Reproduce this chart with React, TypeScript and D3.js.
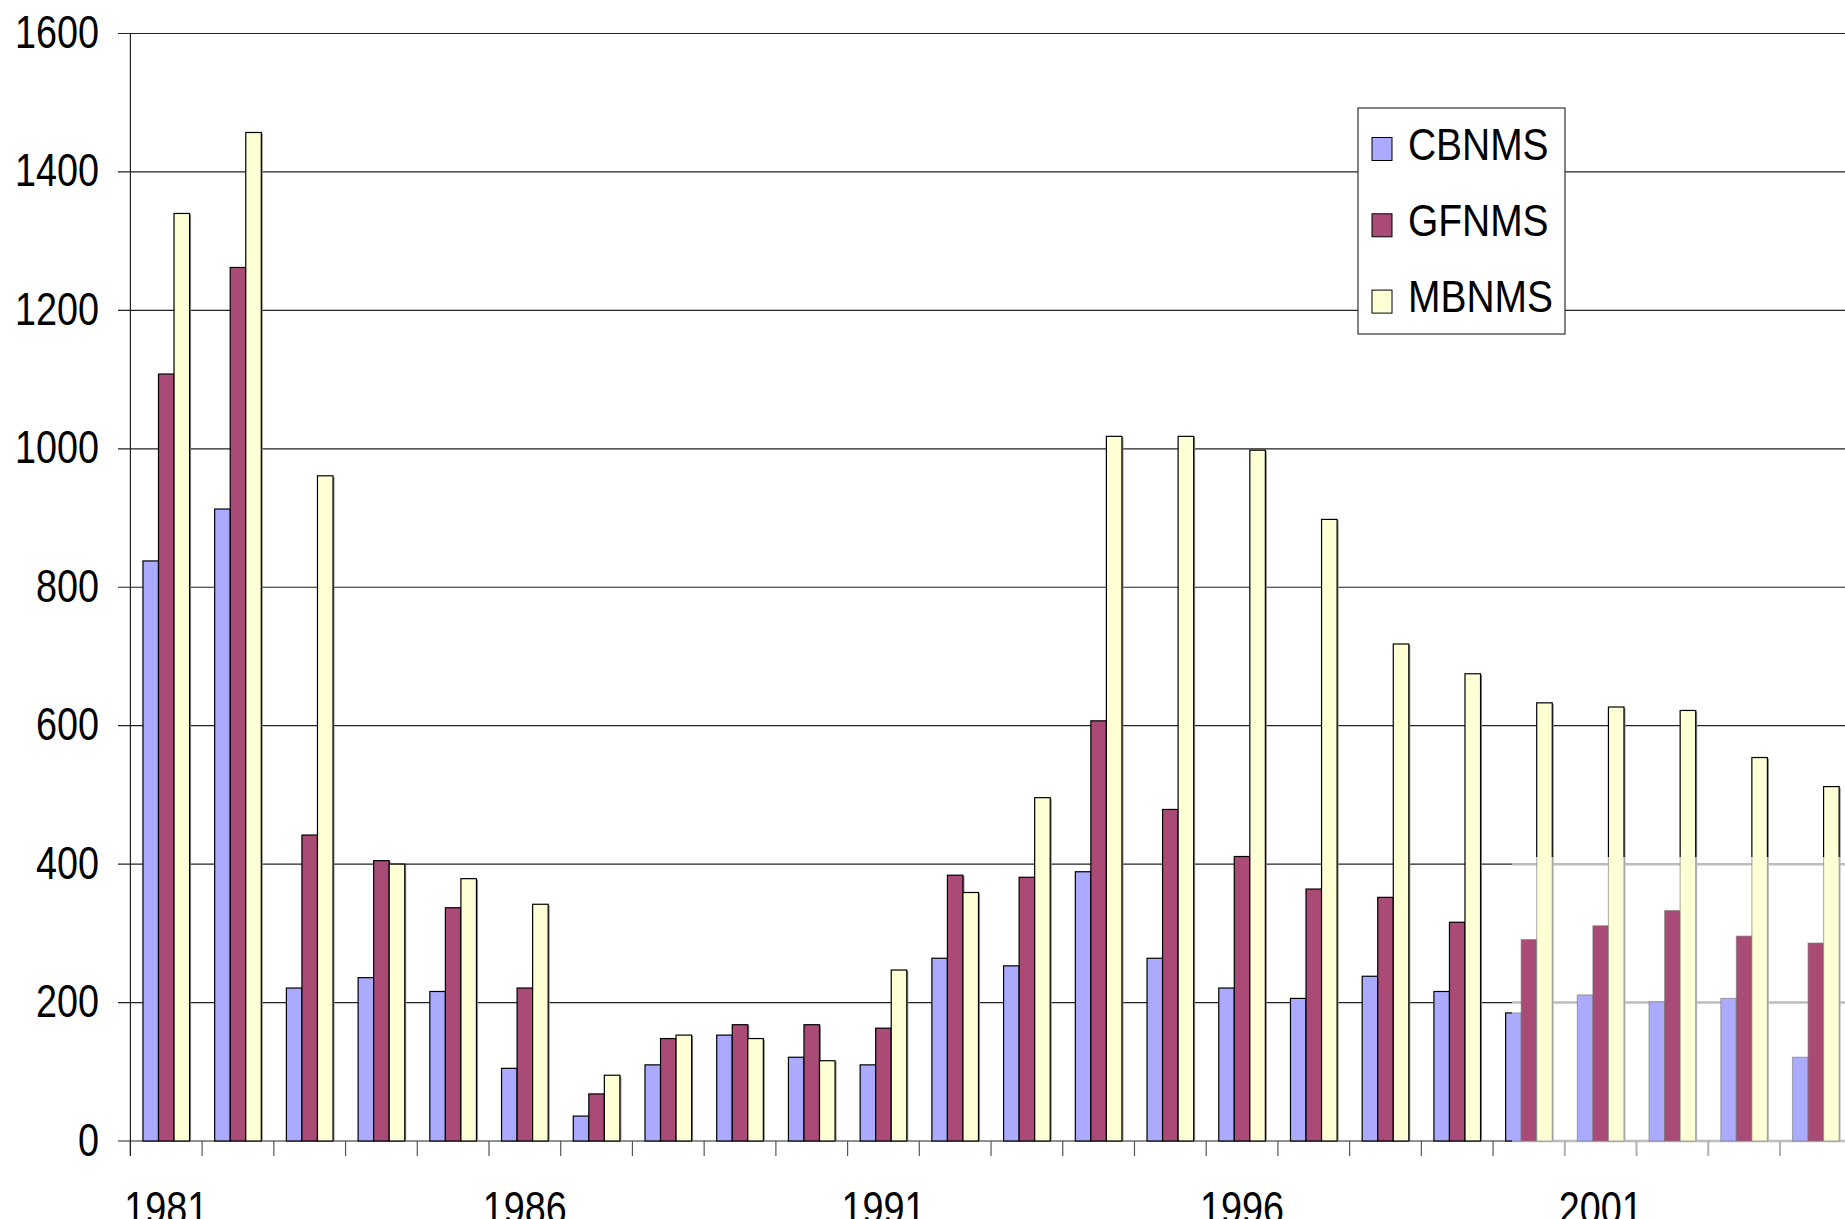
import React from 'react'
import * as d3 from 'd3'

const years = ['1981', '1982', '1983', '1984', '1985', '1986', '1987', '1988', '1989', '1990', '1991', '1992',
  '1993', '1994', '1995', '1996', '1997', '1998', '1999', '2000', '2001', '2002', '2003', '2004']
const seriesNames = ['CBNMS', 'GFNMS', 'MBNMS']
const cbnms = [838, 913, 221, 236, 216, 105, 36, 110, 153, 121, 110, 264, 253, 389, 264, 221, 206, 238, 216, 185, 211, 201, 206, 121]
const gfnms = [1108, 1262, 442, 405, 337, 221, 68, 148, 168, 168, 163, 384, 381, 607, 479, 411, 364, 352, 316, 291, 311, 333, 296, 286]
const mbnms = [1340, 1457, 961, 400, 379, 342, 95, 153, 148, 116, 247, 359, 496, 1018, 1018, 998, 898, 718, 675, 633, 627, 622, 554, 512]
const yTicks = [0, 200, 400, 600, 800, 1000, 1200, 1400, 1600]
const xLabels = ['1981', '1986', '1991', '1996', '2001']

const colors = ['#AAAAFF', '#A94A77', '#FFFFD6']
const font = '"Liberation Sans", Arial, sans-serif'

export default function App () {
  const width = 1845
  const height = 1219
  const left = 130.4
  const step = 71.72

  const y = d3.scaleLinear().domain([0, 1600]).range([1141, 33.5])
  const x0 = d3.scaleBand().domain(years).range([left, left + step * years.length])
    .paddingInner(0.35).paddingOuter(0.175)
  const x1 = d3.scaleBand().domain(seriesNames).range([0, x0.bandwidth()])

  const data = years.map((yr, i) => ({ year: yr, values: [cbnms[i], gfnms[i], mbnms[i]] }))

  // odd faded patch in the lower right of the original picture
  const patch = { x: 1512, y: 857 }

  const bars = (faded: boolean) => data.map(d => (
    <g key={d.year} transform={`translate(${x0(d.year)},0)`}>
      {d.values.map((v, j) => {
        const bx = x1(seriesNames[j])!
        const by = y(v)
        const bh = y(0) - by
        return (
          <g key={j}>
            <rect x={bx + 1.5} y={by + 1} width={x1.bandwidth()} height={bh - 1}
              fill={faded ? '#bdbdbd' : '#8a8a8a'} />
            <rect x={bx} y={by} width={x1.bandwidth()} height={bh} fill={colors[j]}
              stroke={faded ? '#777' : '#000'} strokeOpacity={faded ? 0.55 : 1} strokeWidth={1.2} />
          </g>
        )
      })}
    </g>
  ))

  const ticksX = d3.range(years.length + 1).map(i => left + i * step)

  // the original text is horizontally narrow, so squeeze it
  const label = (key: string, tx: number, ty: number, txt: string, anchor: string, size: number, sx: number) => (
    <text key={key} transform={`translate(${tx},${ty}) scale(${sx},1)`}
      textAnchor={anchor} fontSize={size} fill='#000'>{txt}</text>
  )

  return (
    <svg width={width} height={height} style={{ position: 'absolute', left: 0, top: 0, background: '#fff' }}
      fontFamily={font}>
      <defs>
        <clipPath id='patch'>
          <rect x={patch.x} y={patch.y} width={width - patch.x} height={height - patch.y} />
        </clipPath>
      </defs>
      <rect width={width} height={height} fill='#fff' />

      {/* gridlines */}
      {yTicks.map(t => (
        <line key={t} x1={118} x2={width} y1={y(t)} y2={y(t)} stroke='#222' strokeWidth={1.2} />
      ))}

      {/* x ticks */}
      {ticksX.map((tx, i) => (
        <line key={i} x1={tx} x2={tx} y1={y(0)} y2={y(0) + 15} stroke='#555' strokeWidth={1.2} />
      ))}

      {bars(false)}

      {/* y axis */}
      <line x1={left} x2={left} y1={y(1600)} y2={y(0) + 15} stroke='#222' strokeWidth={1.2} />

      {/* faded patch */}
      <g clipPath='url(#patch)'>
        <rect x={patch.x} y={patch.y} width={width - patch.x} height={height - patch.y} fill='#fff' />
        {yTicks.map(t => (
          <line key={t} x1={patch.x} x2={width} y1={y(t)} y2={y(t)} stroke='#bdbdbd' strokeWidth={2.5} />
        ))}
        {ticksX.map((tx, i) => (
          <line key={i} x1={tx} x2={tx} y1={y(0)} y2={y(0) + 15} stroke='#b0b0b0' strokeWidth={2} />
        ))}
        {bars(true)}
      </g>

      {/* y labels */}
      {yTicks.map(t => label(`y${t}`, 99, y(t) + 14.5, String(t), 'end', 45.5, 0.83))}

      {/* x labels */}
      {xLabels.map(l => label(`x${l}`, x0(l)! + x0.bandwidth() / 2, 1223.5, l, 'middle', 45.5, 0.83))}

      {/* legend */}
      <g>
        <rect x={1358} y={108} width={207} height={226} fill='#fff' stroke='#333' strokeWidth={1.2} />
        {seriesNames.map((s, i) => {
          const cy = 149 + i * 76.3
          return (
            <g key={s}>
              <rect x={1372} y={cy - 11.5} width={20} height={23} fill={colors[i]} stroke='#000' strokeWidth={1} />
              {label(s, 1408, cy + 10.5, s, 'start', 44.5, 0.875)}
            </g>
          )
        })}
      </g>
    </svg>
  )
}
